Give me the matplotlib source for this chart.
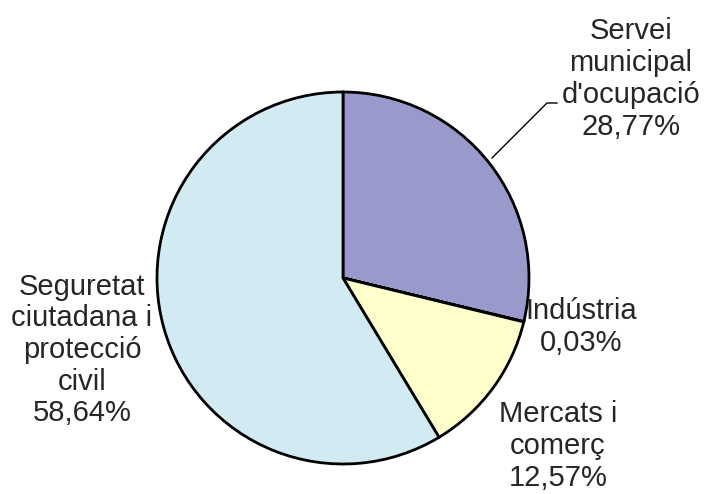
import matplotlib
matplotlib.use("Agg")
import matplotlib.pyplot as plt

labels = ["Servei\nmunicipal\nd'ocupació", "Indústria", "Mercats i\ncomerç", "Seguretat\nciutadana i\nprotecció\ncivil"]
values = [28.77, 0.03, 12.57, 58.64]
colors = ["#9999CC", "#FFFFFF", "#FFFFCC", "#D2EBF2"]

W, H = 706, 494
fig = plt.figure(figsize=(W / 100, H / 100), dpi=100)
ax = fig.add_axes([0, 0, 1, 1])

cx, cy, r = 343, H - 278, 186
ax.pie(values, colors=colors, startangle=90, counterclock=False,
       center=(cx, cy), radius=r, frame=True,
       wedgeprops=dict(edgecolor="black", linewidth=2))
ax.set_xlim(0, W)
ax.set_ylim(0, H)
ax.axis("off")

def pct(v):
    return f"{v:.2f}%".replace(".", ",")

txt = dict(ha="center", va="center", fontsize=21, color="#262626",
           family="Liberation Sans", linespacing=1.17)
positions = [(631, H - 79), (581, H - 327), (558, H - 446), (82, H - 350)]
for lab, v, (x, y) in zip(labels, values, positions):
    ax.text(x, y, f"{lab}\n{pct(v)}", **txt)

# leader line for first label
ax.plot([492, 547, 557], [H - 158, H - 103, H - 103], color="black", lw=1)

fig.savefig("out.png", dpi=100)
